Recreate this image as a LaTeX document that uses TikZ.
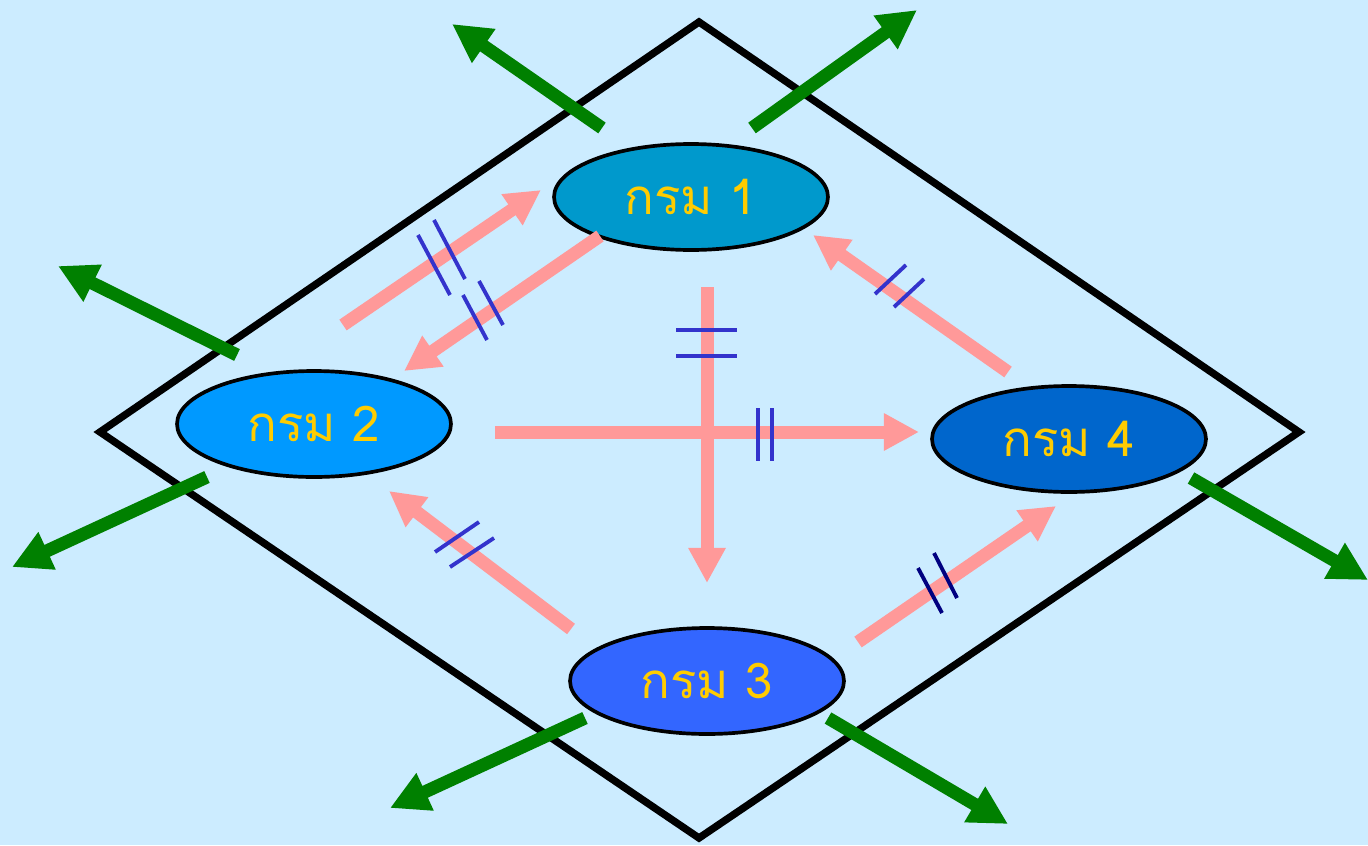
\documentclass[tikz,border=0pt]{standalone}
\usepackage{fontspec}
\newfontfamily\thaifont[Script=Thai]{Loma}
\usetikzlibrary{arrows.meta,shapes.geometric}
\definecolor{bgblue}{HTML}{CCECFF}
\definecolor{pinkarr}{HTML}{FF9999}
\definecolor{greenarr}{HTML}{008000}
\definecolor{tickblue}{HTML}{3333CC}
\definecolor{ticknavy}{HTML}{000080}
\definecolor{txtyellow}{HTML}{FFCC00}
\definecolor{eone}{HTML}{0099CC}
\definecolor{etwo}{HTML}{0099FF}
\definecolor{ethree}{HTML}{3366FF}
\definecolor{efour}{HTML}{0066CC}
\tikzset{
  dept/.style={ellipse, draw=black, line width=2.1pt, minimum width=5.48cm, minimum height=2.12cm, inner sep=0pt, text=txtyellow, font=\thaifont\fontsize{28}{28}\selectfont},
  pinkline/.style={draw=pinkarr, line width=7.4pt, -{Triangle[length=20pt,width=20pt]}},
  greenline/.style={draw=greenarr, line width=7.4pt, -{Triangle[length=22pt,width=22pt]}},
  tickmark/.style={draw=tickblue, line width=2.2pt},
  frame/.style={draw=black, line width=4.2pt, line join=miter}
}
\begin{document}
\begin{tikzpicture}[x=0.02cm,y=-0.02cm]
\fill[bgblue] (0,0) rectangle (1368,845);
\useasboundingbox (0,0) rectangle (1368,845);
% diamond
\coordinate (dt) at (699,22);
\coordinate (dr) at (1299,432);
\coordinate (db) at (699,838);
\coordinate (dl) at (100,432);
\draw[frame] (dt) -- (dr) -- (db) -- (dl) -- cycle;
% green arrow coordinates
\coordinate (g1s) at (602,128); \coordinate (g1e) at (452,24);
\coordinate (g2s) at (752,128); \coordinate (g2e) at (917,10);
\coordinate (g3s) at (237,355); \coordinate (g3e) at (58,266);
\coordinate (g4s) at (207,477); \coordinate (g4e) at (12,567);
\coordinate (g5s) at (1191,478); \coordinate (g5e) at (1368,580);
\coordinate (g6s) at (585,718); \coordinate (g6e) at (390,808);
\coordinate (g7s) at (828,718); \coordinate (g7e) at (1008,824);
\foreach \i in {1,...,7} {\draw[greenline] (g\i s) -- (g\i e);}
% departments
\node[dept, fill=eone] (d1) at (691,197) {กรม 1};
\node[dept, fill=etwo] (d2) at (314,424) {กรม 2};
\node[dept, fill=ethree] (d3) at (707,681) {กรม 3};
\node[dept, fill=efour] (d4) at (1069,439) {กรม 4};
% pink arrow coordinates
\coordinate (p1s) at (343,325); \coordinate (p1e) at (541,190);
\coordinate (p2s) at (600,236); \coordinate (p2e) at (404,371);
\coordinate (p3s) at (495,432); \coordinate (p3e) at (919,432);
\coordinate (p4s) at (707,287); \coordinate (p4e) at (707,583);
\coordinate (p5s) at (1008,372); \coordinate (p5e) at (813,235);
\coordinate (p6s) at (571,629); \coordinate (p6e) at (389,491);
\coordinate (p7s) at (858,642); \coordinate (p7e) at (1056,506);
\foreach \i in {1,...,7} {\draw[pinkline] (p\i s) -- (p\i e);}
% tick marks
\draw[tickmark] (418,235) -- (450,295);
\draw[tickmark] (434,220) -- (465,279);
\draw[tickmark] (463,295) -- (487,340);
\draw[tickmark] (479,281) -- (503,325);
\draw[tickmark] (676,330) -- (737,330);
\draw[tickmark] (676,356) -- (737,356);
\draw[tickmark] (758,408) -- (758,461);
\draw[tickmark] (772,408) -- (772,461);
\draw[tickmark] (875,294) -- (906,265);
\draw[tickmark] (894,307) -- (924,279);
\draw[tickmark] (435,552) -- (479,522);
\draw[tickmark] (450,567) -- (494,538);
\draw[tickmark, draw=ticknavy] (918,568) -- (942,613);
\draw[tickmark, draw=ticknavy] (934,553) -- (957,598);
\end{tikzpicture}
\end{document}
